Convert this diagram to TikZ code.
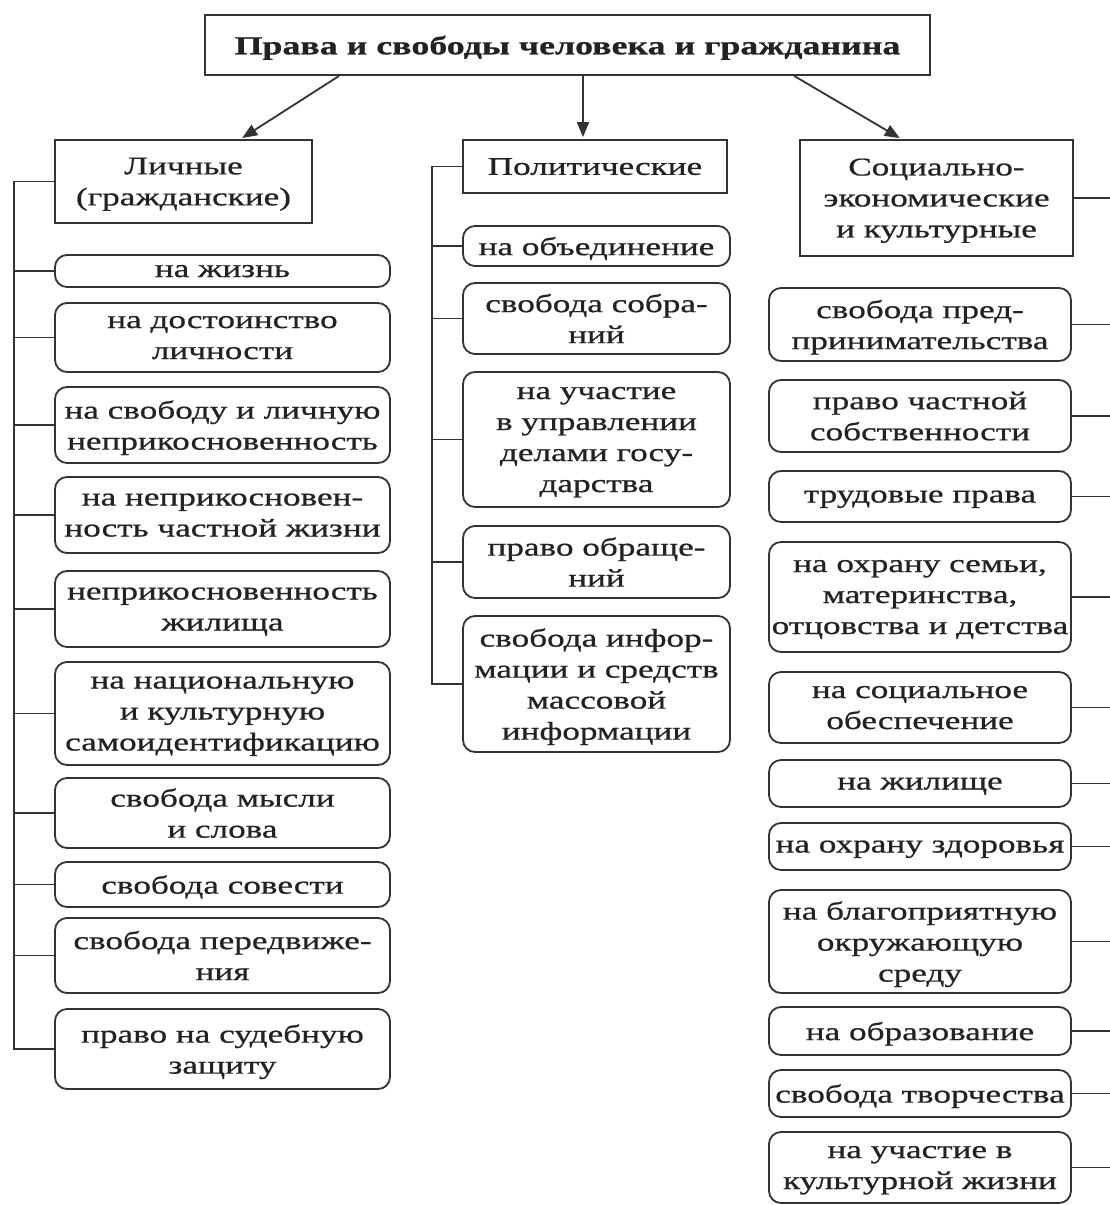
\documentclass[tikz,border=0pt]{standalone}
\usepackage{fontspec}
\setmainfont{Liberation Serif}[FakeStretch=1.38,FakeBold=0.7]
\usetikzlibrary{arrows.meta,calc}
\definecolor{ln}{HTML}{333333}
\definecolor{tx}{HTML}{222222}
\begin{document}
\begin{tikzpicture}[x=1pt,y=-1pt,
  every node/.style={inner sep=0pt, text=tx, align=center, text depth=0pt, font=\fontsize{25.5}{31}\selectfont},
  hdr/.style={draw=ln, line width=1.8pt, rectangle},
  rbox/.style={draw=ln, line width=1.8pt, rounded corners=12pt},
  lcol/.style={rbox, minimum width=335pt},
  mcol/.style={rbox, minimum width=267pt},
  rcol/.style={rbox, minimum width=302pt},
  tie/.style={draw=ln, line width=1.8pt},
  arr/.style={draw=ln, line width=1.8pt, -{Triangle[length=15pt,width=12pt]}, shorten >=2pt}]
\useasboundingbox[fill=white] (0,0) rectangle (1110,1205);

% title and headers
\node[hdr, minimum width=725pt, minimum height=60pt, font=\fontsize{26}{31}\selectfont\bfseries] (title) at (567.5,45) {Права и свободы человека и гражданина};
\node[hdr, minimum width=257pt, minimum height=83pt] (lh) at (183.5,181.5) {Личные\\(гражданские)};
\node[hdr, minimum width=264pt, minimum height=53pt] (mh) at (595,166.5) {Политические};
\node[hdr, minimum width=273pt, minimum height=116pt] (rh) at (936.5,198) {Социально-\\экономические\\и культурные};

\draw[arr] ($(title.south west)+(135,0)$) -- ($(lh.north)+(57,0)$);
\draw[arr] ($(title.south)+(15.5,0)$) -- ($(mh.north)+(-12,0)$);
\draw[arr] ($(title.south west)+(590,0)$) -- ($(rh.north)+(-35,0)$);

% left column
\node[lcol, minimum height=32pt] (l1) at (222.5,271) {на жизнь};
\node[lcol, minimum height=69pt] (l2) at (222.5,337.5) {на достоинство\\личности};
\node[lcol, minimum height=76pt] (l3) at (222.5,425) {на свободу и личную\\неприкосновенность};
\node[lcol, minimum height=76pt] (l4) at (222.5,515) {на неприкосновен-\\ность частной жизни};
\node[lcol, minimum height=76pt] (l5) at (222.5,609) {неприкосновенность\\жилища};
\node[lcol, minimum height=103pt] (l6) at (222.5,713.5) {на национальную\\и культурную\\самоидентификацию};
\node[lcol, minimum height=70pt] (l7) at (222.5,813) {свобода мысли\\и слова};
\node[lcol, minimum height=45pt] (l8) at (222.5,884.5) {свобода совести};
\node[lcol, minimum height=75pt] (l9) at (222.5,955.5) {свобода передвиже-\\ния};
\node[lcol, minimum height=80pt] (l10) at (222.5,1049) {право на судебную\\защиту};

\coordinate (lbus) at (14,0);
\draw[tie] (lh.west) -- (lh.west -| lbus) -- (l10.west -| lbus) -- (l10.west);
\foreach \n in {l1,l2,l3,l4,l5,l6,l7,l8,l9}
  \draw[tie] (\n.west) -- (\n.west -| lbus);

% middle column
\node[mcol, minimum height=40pt] (m1) at (596.5,246) {на объединение};
\node[mcol, minimum height=71pt] (m2) at (596.5,318.5) {свобода собра-\\ний};
\node[mcol, minimum height=135pt] (m3) at (596.5,439.5) {на участие\\в управлении\\делами госу-\\дарства};
\node[mcol, minimum height=72pt] (m4) at (596.5,562) {право обраще-\\ний};
\node[mcol, minimum height=136pt] (m5) at (596.5,684) {свобода инфор-\\мации и средств\\массовой\\информации};

\coordinate (mbus) at (432,0);
\draw[tie] (mh.west) -- (mh.west -| mbus) -- (m5.west -| mbus) -- (m5.west);
\foreach \n in {m1,m2,m3,m4}
  \draw[tie] (\n.west) -- (\n.west -| mbus);

% right column
\node[rcol, minimum height=73pt] (r1) at (920,324.5) {свобода пред-\\принимательства};
\node[rcol, minimum height=72pt] (r2) at (920,416) {право частной\\собственности};
\node[rcol, minimum height=51pt] (r3) at (920,496.5) {трудовые права};
\node[rcol, minimum height=110pt] (r4) at (920,597) {на охрану семьи,\\материнства,\\отцовства и детства};
\node[rcol, minimum height=71pt] (r5) at (920,707.5) {на социальное\\обеспечение};
\node[rcol, minimum height=47pt] (r6) at (920,783.5) {на жилище};
\node[rcol, minimum height=47pt] (r7) at (920,846.5) {на охрану здоровья};
\node[rcol, minimum height=103pt] (r8) at (920,941.5) {на благоприятную\\окружающую\\среду};
\node[rcol, minimum height=48pt] (r9) at (920,1031) {на образование};
\node[rcol, minimum height=47pt] (r10) at (920,1093.5) {свобода творчества};
\node[rcol, minimum height=71pt] (r11) at (920,1167.5) {на участие в\\культурной жизни};

\coordinate (rbus) at (1110,0);
\draw[tie] (rh.east) -- (rh.east -| rbus);
\foreach \n in {r1,r2,r3,r4,r5,r6,r7,r8,r9,r10,r11}
  \draw[tie] (\n.east) -- (\n.east -| rbus);
\end{tikzpicture}
\end{document}
